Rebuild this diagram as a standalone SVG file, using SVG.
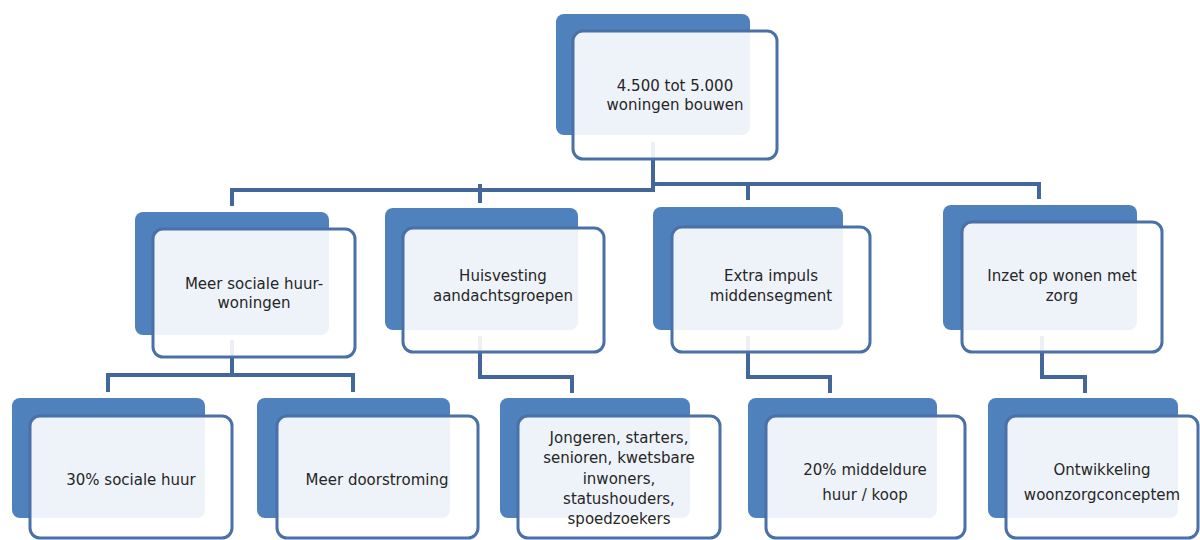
<svg xmlns="http://www.w3.org/2000/svg" width="1200" height="540" viewBox="0 0 1200 540">
<style>
.bg{fill:#ffffff}
.back{fill:#4f81bd}
.front{fill:#ffffff;fill-opacity:0.9;stroke:#4a70a8;stroke-width:3}
.conn{fill:none;stroke:#44679b;stroke-width:4;stroke-linejoin:miter}
.t{font-family:"DejaVu Sans","Open Sans",sans-serif;font-size:15px;fill:#262626;text-anchor:middle}
</style>
<rect class="bg" x="0" y="0" width="1200" height="540"/>
<g id="connectors">
<path class="conn" d="M653 142 V190 H232 V206"/>
<path class="conn" d="M653 184 H1039 V199"/>
<path class="conn" d="M480 184 V203"/>
<path class="conn" d="M748 184 V200"/>
<path class="conn" d="M232 340 V375"/>
<path class="conn" d="M108 392 V375 H353 V392"/>
<path class="conn" d="M480 336 V377 H572 V393"/>
<path class="conn" d="M748 336 V377 H830 V393"/>
<path class="conn" d="M1042 336 V377 H1085 V393"/>
</g>
<g id="n-top">
<rect class="back" x="556" y="14" width="194" height="121" rx="8"/>
<rect class="front" x="573" y="31" width="204" height="128" rx="10"/>
<text class="t" x="675" y="91">4.500 tot 5.000</text>
<text class="t" x="675" y="110">woningen bouwen</text>
</g>
<g id="n-sociale">
<rect class="back" x="135" y="212" width="194" height="123" rx="8"/>
<rect class="front" x="153" y="229" width="202" height="128" rx="10"/>
<text class="t" x="254" y="289">Meer sociale huur-</text>
<text class="t" x="254" y="308">woningen</text>
</g>
<g id="n-huisvesting">
<rect class="back" x="385" y="208" width="193" height="122" rx="8"/>
<rect class="front" x="403" y="228" width="201" height="124" rx="10"/>
<text class="t" x="503" y="281">Huisvesting</text>
<text class="t" x="503" y="301">aandachtsgroepen</text>
</g>
<g id="n-extra">
<rect class="back" x="653" y="207" width="190" height="123" rx="8"/>
<rect class="front" x="672" y="227" width="198" height="125" rx="10"/>
<text class="t" x="771" y="281">Extra impuls</text>
<text class="t" x="771" y="301">middensegment</text>
</g>
<g id="n-zorg">
<rect class="back" x="943" y="205" width="194" height="125" rx="8"/>
<rect class="front" x="962" y="222" width="200" height="130" rx="10"/>
<text class="t" x="1062" y="281">Inzet op wonen met</text>
<text class="t" x="1062" y="301">zorg</text>
</g>
<g id="n-30">
<rect class="back" x="12" y="398" width="193" height="120" rx="8"/>
<rect class="front" x="30" y="416" width="202" height="122" rx="10"/>
<text class="t" x="131" y="485">30% sociale huur</text>
</g>
<g id="n-doorstroming">
<rect class="back" x="257" y="398" width="193" height="120" rx="8"/>
<rect class="front" x="277" y="416" width="201" height="122" rx="10"/>
<text class="t" x="377" y="485">Meer doorstroming</text>
</g>
<g id="n-jongeren">
<rect class="back" x="500" y="398" width="190" height="120" rx="8"/>
<rect class="front" x="518" y="416" width="202" height="122" rx="10"/>
<text class="t" x="619" y="443">Jongeren, starters,</text>
<text class="t" x="619" y="463">senioren, kwetsbare</text>
<text class="t" x="619" y="484">inwoners,</text>
<text class="t" x="619" y="504">statushouders,</text>
<text class="t" x="619" y="524">spoedzoekers</text>
</g>
<g id="n-20">
<rect class="back" x="748" y="398" width="189" height="120" rx="8"/>
<rect class="front" x="766" y="416" width="199" height="122" rx="10"/>
<text class="t" x="865" y="475">20% middeldure</text>
<text class="t" x="865" y="500">huur / koop</text>
</g>
<g id="n-ontwikkeling">
<rect class="back" x="988" y="398" width="190" height="120" rx="8"/>
<rect class="front" x="1006" y="416" width="192" height="122" rx="10"/>
<text class="t" x="1102" y="475">Ontwikkeling</text>
<text class="t" x="1102" y="500">woonzorgconceptem</text>
</g>
</svg>
